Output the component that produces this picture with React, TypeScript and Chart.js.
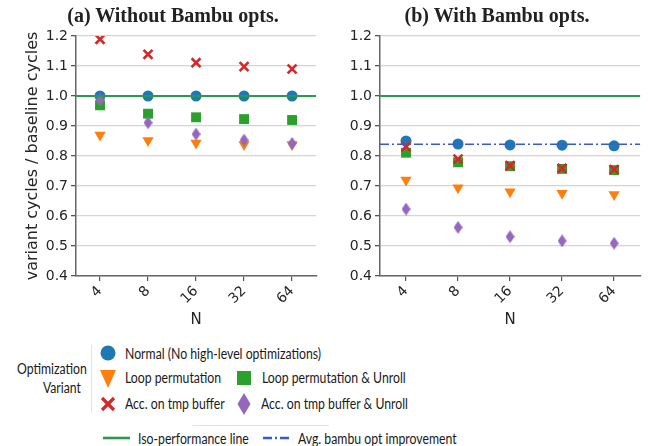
import React, { useEffect, useRef } from "react";
import { Chart, registerables } from "chart.js";

Chart.register(...registerables);

const categories = ["4", "8", "16", "32", "64"];
const yTicks = [0.4, 0.5, 0.6, 0.7, 0.8, 0.9, 1.0, 1.1, 1.2];

// (a) Without Bambu opts.
const aNormal = [1.0, 1.0, 1.0, 1.0, 1.0];
const aLoopPerm = [0.87, 0.852, 0.843, 0.838, 0.838];
const aLoopPermUnroll = [0.969, 0.941, 0.929, 0.923, 0.92];
const aAccTmp = [1.189, 1.139, 1.111, 1.098, 1.09];
const aAccTmpUnroll = [0.987, 0.911, 0.873, 0.853, 0.842];

// (b) With Bambu opts.
const bNormal = [0.85, 0.84, 0.837, 0.836, 0.834];
const bLoopPerm = [0.72, 0.694, 0.681, 0.676, 0.672];
const bLoopPermUnroll = [0.811, 0.779, 0.766, 0.757, 0.753];
const bAccTmp = [0.831, 0.79, 0.768, 0.759, 0.755];
const bAccTmpUnroll = [0.623, 0.562, 0.531, 0.517, 0.509];

const isoPerformance = 1.0;
const avgBambuImprovement = 0.839;

const C_BLUE = "#1f77b4";
const C_ORANGE = "#ff7f0e";
const C_GREEN = "#2ca02c";
const C_RED = "#d62728";
const C_PURPLE = "#9467bd";
const C_ISO = "#2a9a4f";
const C_AVG = "#3a5bc7";

function makeDiamond(w: number, h: number, color: string) {
  const c = document.createElement("canvas");
  c.width = w;
  c.height = h;
  const ctx = c.getContext("2d")!;
  ctx.fillStyle = color;
  ctx.beginPath();
  ctx.moveTo(w / 2, 0);
  ctx.lineTo(w, h / 2);
  ctx.lineTo(w / 2, h);
  ctx.lineTo(0, h / 2);
  ctx.closePath();
  ctx.fill();
  return c;
}

function hLinePlugin(lines: { value: number; color: string; dash: number[]; width: number }[]) {
  return {
    id: "hlines",
    afterDatasetsDraw(chart: any) {
      const { ctx, chartArea, scales } = chart;
      ctx.save();
      for (const l of lines) {
        const y = scales.y.getPixelForValue(l.value);
        ctx.strokeStyle = l.color;
        ctx.lineWidth = l.width;
        ctx.setLineDash(l.dash);
        ctx.beginPath();
        ctx.moveTo(chartArea.left, y);
        ctx.lineTo(chartArea.right, y);
        ctx.stroke();
      }
      ctx.restore();
    },
  };
}

function buildConfig(
  series: number[][],
  yAxisWidth: number,
  padRight: number,
  showYTitle: boolean,
  lines: any[]
) {
  const diamond = makeDiamond(9, 13, C_PURPLE);
  const [normal, loop, loopUnroll, acc, accUnroll] = series;
  return {
    type: "line" as const,
    data: {
      labels: categories,
      datasets: [
        {
          label: "Acc. on tmp buffer & Unroll",
          data: accUnroll,
          pointStyle: diamond,
          order: 1,
        },
        {
          label: "Acc. on tmp buffer",
          data: acc,
          pointStyle: "crossRot",
          pointRadius: 6.3,
          pointBorderWidth: 2.6,
          pointBorderColor: C_RED,
          pointBackgroundColor: C_RED,
          order: 2,
        },
        {
          label: "Loop permutation & Unroll",
          data: loopUnroll,
          pointStyle: "rect",
          pointRadius: 7,
          pointBorderWidth: 0,
          pointBackgroundColor: C_GREEN,
          pointBorderColor: C_GREEN,
          order: 3,
        },
        {
          label: "Loop permutation",
          data: loop,
          pointStyle: "triangle",
          pointRotation: 180,
          pointRadius: 6.5,
          pointBorderWidth: 0,
          pointBackgroundColor: C_ORANGE,
          pointBorderColor: C_ORANGE,
          order: 4,
        },
        {
          label: "Normal (No high-level optimizations)",
          data: normal,
          pointStyle: "circle",
          pointRadius: 5.5,
          pointBorderWidth: 0,
          pointBackgroundColor: C_BLUE,
          pointBorderColor: C_BLUE,
          order: 5,
        },
      ].map((d) => ({ showLine: false, ...d })),
    },
    options: {
      animation: false as const,
      responsive: false,
      layout: { padding: { top: 36, right: padRight, bottom: 0, left: 0 } },
      plugins: {
        legend: { display: false },
        tooltip: { enabled: false },
        title: { display: false },
      },
      scales: {
        x: {
          type: "category" as const,
          offset: true,
          grid: {
            drawOnChartArea: false,
            drawTicks: true,
            tickLength: 5,
            tickColor: "#555",
            lineWidth: 1.2,
          },
          border: { color: "#666", width: 1.5 },
          ticks: {
            maxRotation: 45,
            minRotation: 45,
            padding: 2,
            color: "#262626",
            font: { family: "DejaVu Sans", size: 14 },
          },
          title: {
            display: true,
            text: "N",
            color: "#262626",
            font: { family: "DejaVu Sans", size: 15 },
            padding: { top: 0, bottom: 1 },
          },
          afterFit: (s: any) => {
            s.height = 54;
          },
        },
        y: {
          min: 0.4,
          max: 1.2,
          afterBuildTicks: (s: any) => {
            s.ticks = yTicks.map((v) => ({ value: v }));
          },
          grid: {
            color: "#d4d4d4",
            lineWidth: 1.3,
            drawTicks: true,
            tickLength: 5,
            tickColor: "#555",
          },
          border: { color: "#666", width: 1.5 },
          ticks: {
            padding: 3,
            color: "#262626",
            font: { family: "DejaVu Sans", size: 14 },
            callback: (v: any) => Number(v).toFixed(1),
          },
          title: {
            display: showYTitle,
            text: "variant cycles / baseline cycles",
            color: "#262626",
            font: { family: "DejaVu Sans", size: 16 },
            padding: { top: 23, bottom: 0 },
          },
          afterFit: (s: any) => {
            s.width = yAxisWidth;
          },
        },
      },
    },
    plugins: [hLinePlugin(lines)],
  };
}

function ChartCanvas(props: {
  series: number[][];
  width: number;
  height: number;
  yAxisWidth: number;
  padRight: number;
  showYTitle: boolean;
  lines: any[];
  left: number;
}) {
  const ref = useRef<HTMLCanvasElement | null>(null);
  useEffect(() => {
    if (!ref.current) return;
    const chart = new Chart(
      ref.current,
      buildConfig(props.series, props.yAxisWidth, props.padRight, props.showYTitle, props.lines) as any
    );
    return () => chart.destroy();
  }, []);
  return (
    <canvas
      ref={ref}
      width={props.width}
      height={props.height}
      style={{ position: "absolute", left: props.left, top: 0, width: props.width, height: props.height }}
    />
  );
}

const legendFont = "Lato, 'Open Sans', sans-serif";
const legendSize = 15.5;
const legendScale = 0.79;

function Abs(props: { x: number; y: number; children: any; style?: any }) {
  return (
    <div
      style={{
        position: "absolute",
        left: props.x,
        top: props.y,
        whiteSpace: "nowrap",
        ...props.style,
      }}
    >
      {props.children}
    </div>
  );
}

function LegendText(props: { x: number; cy: number; text: string }) {
  return (
    <div
      style={{
        position: "absolute",
        left: props.x,
        top: props.cy - 10,
        height: 20,
        lineHeight: "20px",
        fontFamily: legendFont,
        fontSize: legendSize,
        color: "#1a1a1a",
        whiteSpace: "nowrap",
        transform: `scaleX(${legendScale})`,
        transformOrigin: "left center",
      }}
    >
      {props.text}
    </div>
  );
}

function Marker(props: { cx: number; cy: number; kind: string }) {
  const size = 24;
  const h = size / 2;
  let shape: any = null;
  if (props.kind === "circle") shape = <circle cx={h} cy={h} r={7.5} fill={C_BLUE} />;
  if (props.kind === "tri")
    shape = <polygon points={`${h - 8},${h - 8} ${h + 8},${h - 8} ${h},${h + 10}`} fill={C_ORANGE} />;
  if (props.kind === "square") shape = <rect x={h - 7} y={h - 7} width={14} height={14} fill={C_GREEN} />;
  if (props.kind === "x")
    shape = (
      <g stroke={C_RED} strokeWidth={3.2}>
        <line x1={h - 6} y1={h - 6} x2={h + 6} y2={h + 6} />
        <line x1={h - 6} y1={h + 6} x2={h + 6} y2={h - 6} />
      </g>
    );
  if (props.kind === "diamond")
    shape = <polygon points={`${h},${h - 11} ${h + 6.5},${h} ${h},${h + 11} ${h - 6.5},${h}`} fill={C_PURPLE} />;
  return (
    <svg
      width={size}
      height={size}
      style={{ position: "absolute", left: props.cx - h, top: props.cy - h }}
    >
      {shape}
    </svg>
  );
}

export default function App() {
  const seriesA = [aNormal, aLoopPerm, aLoopPermUnroll, aAccTmp, aAccTmpUnroll];
  const seriesB = [bNormal, bLoopPerm, bLoopPermUnroll, bAccTmp, bAccTmpUnroll];
  const titleStyle = {
    fontFamily: "'Liberation Serif', 'DejaVu Serif', serif",
    fontWeight: "bold" as const,
    fontSize: 20,
    color: "#222",
    textAlign: "center" as const,
    width: 300,
    lineHeight: "22px",
  };
  return (
    <div
      style={{
        position: "fixed",
        left: 0,
        top: 0,
        width: 649,
        height: 446,
        background: "#fff",
        overflow: "hidden",
      }}
    >
      <ChartCanvas
        series={seriesA}
        width={325}
        height={330}
        left={0}
        yAxisWidth={76}
        padRight={3}
        showYTitle={true}
        lines={[{ value: isoPerformance, color: C_ISO, dash: [], width: 1.8 }]}
      />
      <ChartCanvas
        series={seriesB}
        width={324}
        height={330}
        left={325}
        yAxisWidth={55}
        padRight={4}
        showYTitle={false}
        lines={[
          { value: isoPerformance, color: C_ISO, dash: [], width: 1.8 },
          { value: avgBambuImprovement, color: C_AVG, dash: [9, 3, 2, 3], width: 1.6 },
        ]}
      />
      <Abs x={173 - 150} y={4}>
        <div style={titleStyle}>(a) Without Bambu opts.</div>
      </Abs>
      <Abs x={497 - 150} y={4}>
        <div style={titleStyle}>(b) With Bambu opts.</div>
      </Abs>

      {/* Legend */}
      <div
        style={{
          position: "absolute",
          left: 0,
          top: 359,
          width: 81,
          textAlign: "right",
          fontFamily: legendFont,
          fontSize: legendSize,
          lineHeight: "19px",
          color: "#1a1a1a",
          transform: `scaleX(${legendScale})`,
          transformOrigin: "right center",
        }}
      >
        Optimization
        <br />
        Variant
      </div>
      <div style={{ position: "absolute", left: 91, top: 345, width: 1, height: 68, background: "#e2e2e2" }} />
      <Marker cx={108} cy={353} kind="circle" />
      <LegendText x={125} cy={353} text="Normal (No high-level optimizations)" />
      <Marker cx={108} cy={378} kind="tri" />
      <LegendText x={125} cy={377} text="Loop permutation" />
      <Marker cx={244} cy={378} kind="square" />
      <LegendText x={262} cy={377} text="Loop permutation & Unroll" />
      <Marker cx={108} cy={404} kind="x" />
      <LegendText x={125} cy={403} text="Acc. on tmp buffer" />
      <Marker cx={244} cy={404} kind="diamond" />
      <LegendText x={261} cy={403} text="Acc. on tmp buffer & Unroll" />

      <div style={{ position: "absolute", left: 193, top: 425, width: 136, height: 1, background: "#e2e2e2" }} />
      <svg width={649} height={20} style={{ position: "absolute", left: 0, top: 428 }}>
        <line x1={103} y1={10} x2={130} y2={10} stroke={C_ISO} strokeWidth={2.6} />
        <line x1={263} y1={10} x2={292} y2={10} stroke={C_AVG} strokeWidth={2.6} strokeDasharray="9 3 2 3" />
      </svg>
      <LegendText x={138} cy={438} text="Iso-performance line" />
      <LegendText x={298} cy={438} text="Avg. bambu opt improvement" />
    </div>
  );
}
